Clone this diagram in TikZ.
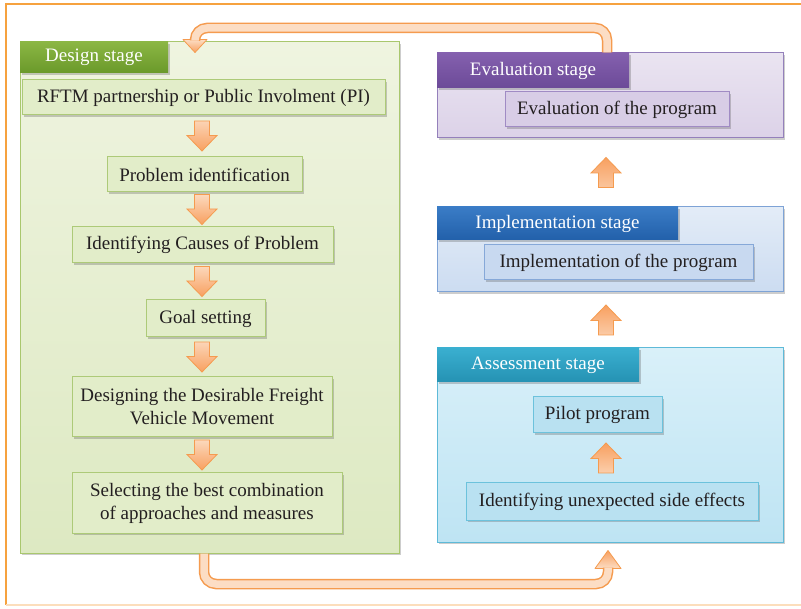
\documentclass[tikz,border=0pt]{standalone}
\usepackage{fontspec}
\setmainfont{Liberation Serif}
\usetikzlibrary{shadows,calc}

\definecolor{framecol}{HTML}{F6A23F}
\definecolor{txt}{HTML}{231F20}
% design stage (green)
\definecolor{gOutTop}{HTML}{EFF4E0}
\definecolor{gOutBot}{HTML}{DDE9C2}
\definecolor{gOutLine}{HTML}{A9C76E}
\definecolor{gTabTop}{HTML}{8BB644}
\definecolor{gTabBot}{HTML}{6A992A}
\definecolor{gIn}{HTML}{E2EDC9}
\definecolor{gInLine}{HTML}{ADCA78}
% evaluation stage (purple)
\definecolor{pOutTop}{HTML}{EAE4F1}
\definecolor{pOutBot}{HTML}{DCD2E8}
\definecolor{pOutLine}{HTML}{9480BB}
\definecolor{pTabTop}{HTML}{8460AE}
\definecolor{pTabBot}{HTML}{6C4A98}
\definecolor{pIn}{HTML}{D8CDE6}
\definecolor{pInLine}{HTML}{A08BC4}
% implementation stage (blue)
\definecolor{bOutTop}{HTML}{E3ECF7}
\definecolor{bOutBot}{HTML}{CCDCF1}
\definecolor{bOutLine}{HTML}{7EA3D6}
\definecolor{bTabTop}{HTML}{3A7CC6}
\definecolor{bTabBot}{HTML}{2260AA}
\definecolor{bIn}{HTML}{C8D9F0}
\definecolor{bInLine}{HTML}{86A8D8}
% assessment stage (cyan)
\definecolor{cOutTop}{HTML}{D9F0F9}
\definecolor{cOutBot}{HTML}{BEE4F3}
\definecolor{cOutLine}{HTML}{5EBAD8}
\definecolor{cTabTop}{HTML}{3AAFD0}
\definecolor{cTabBot}{HTML}{2592B3}
\definecolor{cIn}{HTML}{B9E1F1}
\definecolor{cInLine}{HTML}{6CC2DC}
% orange arrows and bands
\definecolor{arrLight}{HTML}{FCDDC4}
\definecolor{arrDark}{HTML}{F8A060}
\definecolor{arrEdge}{HTML}{F59B4F}

\tikzset{
  x=1pt, y=-1pt,
  every node/.style={font=\fontsize{19}{23}\selectfont, text=txt},
  softshadow/.style={drop shadow={shadow xshift=1.5pt, shadow yshift=-1.8pt, opacity=0.28, fill=black!70}},
  stagebox/.style={draw=#1Line, line width=1pt, inner sep=0pt,
    top color=#1Top, bottom color=#1Bot, softshadow},
  stagetab/.style={inner sep=0pt, top color=#1Top, bottom color=#1Bot,
    text=white, softshadow},
  stepbox/.style={draw=#1Line, fill=#1, line width=1pt, inner sep=0pt,
    align=center, softshadow},
  blockdown/.style={draw=arrEdge, line width=0.8pt, top color=arrLight, bottom color=arrDark,
    to path={let \p1=(\tikztostart), \p3=($(\tikztostart)!0.5!(\tikztotarget)$) in
      (\x1-7.5pt,\y3+15pt) -- (\x1+7.5pt,\y3+15pt) -- (\x1+7.5pt,\y3+0.5pt)
      -- (\x1+15pt,\y3+0.5pt) -- (\x1,\y3-15pt) -- (\x1-15pt,\y3+0.5pt)
      -- (\x1-7.5pt,\y3+0.5pt) -- cycle}},
  blockup/.style={draw=arrEdge, line width=0.8pt, bottom color=arrLight, top color=arrDark,
    to path={let \p1=(\tikztostart), \p3=($(\tikztostart)!0.5!(\tikztotarget)$) in
      (\x1-7.5pt,\y3-15pt) -- (\x1+7.5pt,\y3-15pt) -- (\x1+7.5pt,\y3-0.5pt)
      -- (\x1+15pt,\y3-0.5pt) -- (\x1,\y3+15pt) -- (\x1-15pt,\y3-0.5pt)
      -- (\x1-7.5pt,\y3-0.5pt) -- cycle}},
  band/.style={draw=arrEdge, double=arrLight, line width=1.5pt, double distance=7.5pt,
    rounded corners=12pt},
  bandhead/.style={draw=arrEdge, line width=0.8pt, line join=round},
}

\begin{document}
\begin{tikzpicture}
\useasboundingbox (0,0) rectangle (801,609);
\fill[white] (0,0) rectangle (801,609);

% outer frame
\draw[framecol, line width=1.3pt] (812,4) -- (6,4) -- (6,605);
\draw[framecol!35, line width=1.3pt] (6,605) -- (812,605);

% axes for the arrows
\coordinate (axL) at (202,0);
\coordinate (axR) at (606,0);
\coordinate (axT) at (607,0);
\coordinate (axH) at (195,0);
\coordinate (axB) at (204,0);
\coordinate (axE) at (608,0);
\coordinate (topY) at (0,28);
\coordinate (botY) at (0,584);

% ---------------- design stage ----------------
\node[stagebox=gOut, minimum width=379pt, minimum height=511pt] (design) at (209.5,297.5) {};
\node[stagetab=gTab, minimum width=148pt, minimum height=31pt] (designtab) at (94,57.5) {Design stage};
\node[stepbox=gIn, minimum width=363pt, minimum height=35pt] (pi) at (203.5,97.5)
  {RFTM partnership or Public Involment (PI)};
\node[stepbox=gIn, minimum width=195pt, minimum height=35pt] (probid) at (204.5,174.5)
  {Problem identification};
\node[stepbox=gIn, minimum width=261pt, minimum height=36pt] (causes) at (202.5,245)
  {Identifying Causes of Problem};
\node[stepbox=gIn, minimum width=119pt, minimum height=37pt] (goal) at (205.5,318.5)
  {Goal setting};
\node[stepbox=gIn, minimum width=260pt, minimum height=60pt] (movement) at (202,407)
  {Designing the Desirable Freight\\Vehicle Movement};
\node[stepbox=gIn, minimum width=270pt, minimum height=60pt] (select) at (207,503)
  {Selecting the best combination\\of approaches and measures};

\draw[blockdown] (pi.south -| axL) to (probid.north -| axL);
\draw[blockdown] (probid.south -| axL) to (causes.north -| axL);
\draw[blockdown] (causes.south -| axL) to (goal.north -| axL);
\draw[blockdown] (goal.south -| axL) to (movement.north -| axL);
\draw[blockdown] (movement.south -| axL) to (select.north -| axL);

% ---------------- evaluation stage ----------------
\node[stagebox=pOut, minimum width=346pt, minimum height=85pt] (eval) at (610,95.5) {};
\node[stagetab=pTab, minimum width=192pt, minimum height=35pt] (evaltab) at (533,70.5) {Evaluation stage};
\node[stepbox=pIn, minimum width=224pt, minimum height=35pt] (evalprog) at (617,109.5)
  {Evaluation of the program};

% ---------------- implementation stage ----------------
\node[stagebox=bOut, minimum width=346pt, minimum height=85pt] (impl) at (610,249.5) {};
\node[stagetab=bTab, minimum width=241pt, minimum height=33pt] (impltab) at (557.5,223.5) {Implementation stage};
\node[stepbox=bIn, minimum width=269pt, minimum height=35pt] (implprog) at (618.5,262.5)
  {Implementation of the program};

% ---------------- assessment stage ----------------
\node[stagebox=cOut, minimum width=346pt, minimum height=194pt] (assess) at (610,445) {};
\node[stagetab=cTab, minimum width=202pt, minimum height=34pt] (assesstab) at (538,365) {Assessment stage};
\node[stepbox=cIn, minimum width=129pt, minimum height=36pt] (pilot) at (597.5,415)
  {Pilot program};
\node[stepbox=cIn, minimum width=292pt, minimum height=37pt] (effects) at (612,501.5)
  {Identifying unexpected side effects};

\draw[blockup] (effects.north -| axR) to (pilot.south -| axR);
\draw[blockup] (assess.north -| axR) to (impl.south -| axR);
\draw[blockup] (impl.north -| axR) to (eval.south -| axR);

% ---------------- feedback bands ----------------
% evaluation back to design
\draw[bandhead, top color=arrLight, bottom color=arrDark]
  ($(design.north -| axH)+(-12,-2)$) -- ($(design.north -| axH)+(12,-2)$)
  -- ($(design.north -| axH)+(0,11)$) -- cycle;
\draw[band] (eval.north -| axT) -- (axT |- topY) -- (axH |- topY)
  -- ($(design.north -| axH)+(0,-1)$);

% design on to assessment
\draw[bandhead, bottom color=arrLight, top color=arrDark]
  ($(assess.south -| axE)+(-13,26)$) -- ($(assess.south -| axE)+(13,26)$)
  -- ($(assess.south -| axE)+(0,8)$) -- cycle;
\draw[band] (design.south -| axB) -- (axB |- botY) -- (axE |- botY)
  -- ($(assess.south -| axE)+(0,25)$);
\end{tikzpicture}
\end{document}
